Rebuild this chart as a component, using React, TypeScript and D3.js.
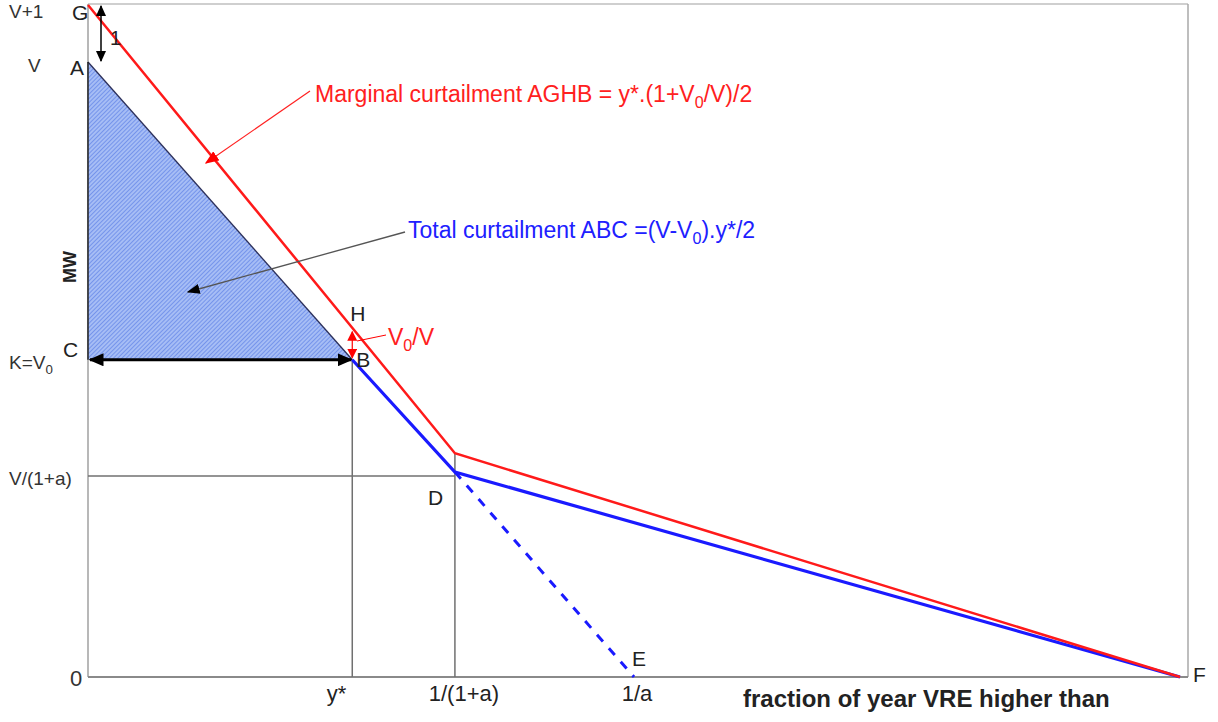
import React from "react"
import * as d3 from "d3"

const WIDTH = 1218
const HEIGHT = 722
const FONT = "Arial, 'Liberation Sans', sans-serif"

// conceptual values (x: fraction of year, y: MW)
const xTickValues = [0.242, 0.336, 0.5]
const xTickLabels = ["y*", "1/(1+a)", "1/a"]
const yTickValues = [11.8, 10.8, 5.57, 3.6, 0]
const yTickLabels = ["V+1", "V", "K=V_0", "V/(1+a)", "0"]

const redLine: [number, number][] = [[0, 11.8], [0.336, 3.93], [1, 0]]
const blueLine: [number, number][] = [[0.242, 5.57], [0.336, 3.6], [1, 0]]
const dashedLine: [number, number][] = [[0.336, 3.6], [0.5, 0]]
const triangle: [number, number][] = [[0, 10.8], [0.242, 5.57], [0, 5.57]]
const pointNames = ["G", "A", "C", "B", "H", "D", "E", "F"]
const pointValues: [number, number][] = [
    [0, 11.8], [0, 10.8], [0, 5.57], [0.242, 5.57],
    [0.242, 6.08], [0.336, 3.6], [0.5, 0], [1, 0],
]
const pointOffsets: [number, number][] = [
    [-16, 15], [-18, 13], [-25, -3], [4, 7],
    [-2, -10], [-27, 33], [-2, -11], [13, 5],
]
const yLabelX = [9, 28, 9, 9, 70]
const yLabelDy = [13, 10, 9, 13, 9]
const xLabelDx = [-6, 9, 3]

const xScale = d3.scaleLinear().domain([0, 1]).range([88, 1180])
const yScale = d3.scaleLinear().domain([0, 11.8]).range([677, 5])
const line = d3.line<[number, number]>().x((d) => xScale(d[0])).y((d) => yScale(d[1]))

// renders "V_0" as V with subscript 0
const Rich = ({ s, size }: { s: string; size: number }) => {
    const parts = s.split(/(_0)/)
    return (
        <>
            {parts.map((p, i) =>
                p === "_0" ? (
                    <tspan key={i} fontSize={size * 0.7} dy={size * 0.25}>0</tspan>
                ) : (
                    <tspan key={i} dy={i > 0 ? -size * 0.25 : 0}>{p}</tspan>
                )
            )}
        </>
    )
}

const Head = ({ id, color, w, h }: { id: string; color: string; w: number; h: number }) => (
    <marker id={id} viewBox="0 0 10 10" refX={9} refY={5} markerWidth={w} markerHeight={h}
        markerUnits="userSpaceOnUse" orient="auto-start-reverse" preserveAspectRatio="none">
        <path d="M0,0 L10,5 L0,10 z" fill={color} />
    </marker>
)

export default function App() {
    const yStar = xScale(xTickValues[0])
    const kink = xScale(xTickValues[1])
    const yK = yScale(yTickValues[2])
    const yD = yScale(yTickValues[3])
    const yG = yScale(yTickValues[0])
    const yA = yScale(yTickValues[1])
    const yH = yScale(pointValues[4][1])

    return (
        <svg width={WIDTH} height={HEIGHT} style={{ position: "absolute", left: 0, top: 0 }} fontFamily={FONT}>
            <defs>
                <pattern id="hatch" width={3} height={3} patternUnits="userSpaceOnUse" patternTransform="rotate(45)">
                    <rect width={3} height={3} fill="#a6bdf5" />
                    <line x1={0} y1={0} x2={0} y2={3} stroke="#5a7ee6" strokeWidth={1.3} />
                </pattern>
                <Head id="ab" color="#000" w={11} h={10} />
                <Head id="abig" color="#000" w={15} h={13} />
                <Head id="ab2" color="#000" w={13} h={10} />
                <Head id="ar" color="#f00" w={14} h={11} />
                <Head id="arSmall" color="#f00" w={10} h={10} />
            </defs>

            {/* frame */}
            <line x1={88} x2={1188} y1={4} y2={4} stroke="#cfcfcf" strokeWidth={2} />
            <line x1={1188} x2={1188} y1={4} y2={677} stroke="#a8a8a8" strokeWidth={1.5} />
            <line x1={88} x2={88} y1={4} y2={677} stroke="#b8b8b8" strokeWidth={2} />
            <line x1={88} x2={1188} y1={677} y2={677} stroke="#8a8a8a" strokeWidth={2} />

            {/* hatched total curtailment */}
            <path d={line(triangle) + "Z"} fill="url(#hatch)" stroke="none" />
            <line x1={xScale(triangle[0][0])} y1={yScale(triangle[0][1])} x2={xScale(triangle[1][0])} y2={yScale(triangle[1][1])} stroke="#2b2f5a" strokeWidth={1.3} />
            <line x1={88} x2={88} y1={yA} y2={yK} stroke="#222" strokeWidth={1.5} />

            {/* guide lines */}
            <line x1={yStar} x2={yStar} y1={yK} y2={677} stroke="#707070" strokeWidth={1.5} />
            <line x1={kink} x2={kink} y1={yScale(redLine[1][1])} y2={677} stroke="#707070" strokeWidth={1.5} />
            <line x1={88} x2={kink} y1={yD + 4} y2={yD + 4} stroke="#707070" strokeWidth={1.5} />

            {/* K = V0 double arrow */}
            <line x1={90} x2={yStar - 1} y1={yK} y2={yK} stroke="#000" strokeWidth={3} markerStart="url(#abig)" markerEnd="url(#abig)" />

            {/* curves */}
            <path d={line(dashedLine) ?? ""} fill="none" stroke="#1a1aff" strokeWidth={3} strokeDasharray="9,9" />
            <path d={line(blueLine) ?? ""} fill="none" stroke="#1a1aff" strokeWidth={3.2} />
            <path d={line(redLine) ?? ""} fill="none" stroke="#ff1a1a" strokeWidth={2.5} />

            {/* 1 MW arrow between G and A */}
            <line x1={101} x2={101} y1={yG + 1} y2={yA - 1} stroke="#000" strokeWidth={1.5} markerStart="url(#ab)" markerEnd="url(#ab)" />
            <text x={110} y={45} fontSize={20} fill="#222">1</text>

            {/* V0/V small red double arrow */}
            <line x1={yStar} x2={yStar} y1={yH + 1} y2={yK - 2} stroke="#f00" strokeWidth={1.2} markerStart="url(#arSmall)" markerEnd="url(#arSmall)" />
            <line x1={357} x2={386} y1={341} y2={335} stroke="#f00" strokeWidth={1} />
            <text x={388} y={345} fontSize={23} fill="#ff2020"><Rich s="V_0/V" size={23} /></text>

            {/* annotations */}
            <line x1={310} y1={91} x2={206} y2={163} stroke="#ff2020" strokeWidth={1.2} markerEnd="url(#ar)" />
            <text x={315} y={102} fontSize={23} fill="#ff2020"><Rich s="Marginal curtailment AGHB = y*.(1+V_0/V)/2" size={23} /></text>
            <line x1={405} y1={232} x2={188} y2={292} stroke="#555" strokeWidth={1.3} markerEnd="url(#ab2)" />
            <text x={408} y={238} fontSize={23} fill="#2020ff"><Rich s="Total curtailment ABC =(V-V_0).y*/2" size={23} /></text>

            {/* point letters */}
            {pointNames.map((n, i) => (
                <text key={n} x={xScale(pointValues[i][0]) + pointOffsets[i][0]} y={yScale(pointValues[i][1]) + pointOffsets[i][1]} fontSize={21} fill="#222">{n}</text>
            ))}

            {/* y tick labels */}
            {yTickLabels.map((t, i) => (
                <text key={t} x={yLabelX[i]} y={yScale(yTickValues[i]) + yLabelDy[i]} fontSize={i === 4 ? 22 : 19} fill="#333">
                    <Rich s={t} size={19} />
                </text>
            ))}

            {/* x tick labels */}
            {xTickLabels.map((t, i) => (
                <text key={t} x={xScale(xTickValues[i]) + xLabelDx[i]} y={701} fontSize={22} textAnchor={i === 0 ? "end" : "middle"} fill="#222">{t}</text>
            ))}

            <text x={743} y={707} fontSize={24} fontWeight="bold" fill="#222">fraction of year VRE higher than</text>
            <text transform="translate(76,267) rotate(-90)" fontSize={18} fontWeight="bold" textAnchor="middle" fill="#222">MW</text>
        </svg>
    )
}
